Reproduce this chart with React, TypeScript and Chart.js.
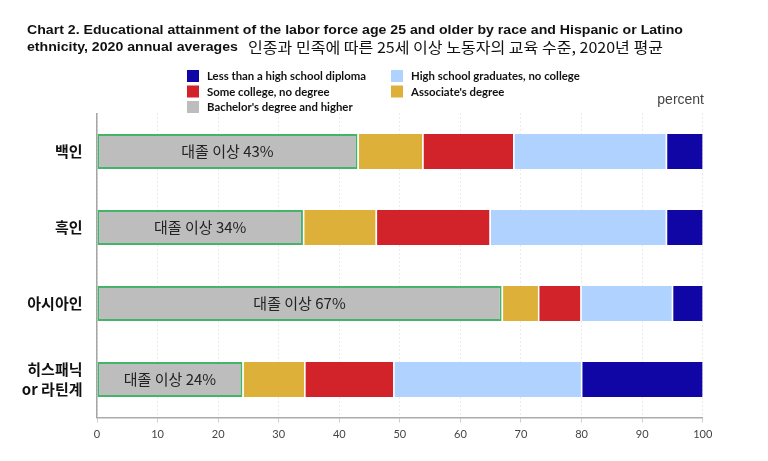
import React, { useEffect, useRef } from 'react';
import { Chart, registerables } from 'chart.js';

Chart.register(...registerables);

// ---- data ----
const categories: (string | string[])[] = ['백인', '흑인', '아시아인', ['히스패닉', 'or 라틴계']];
const seriesNames = [
  "Bachelor's degree and higher",
  "Associate's degree",
  'Some college, no degree',
  'High school graduates, no college',
  'Less than a high school diploma',
];
const bachelors = [43, 34, 66.8, 24];
const associates = [10.7, 12, 6, 10.2];
const someCollege = [15, 18.8, 7, 14.7];
const hsGrads = [25.2, 29.1, 15.1, 31];
const lessThanHS = [6.1, 6.1, 5.1, 20.1];
const bachelorLabels = ['대졸 이상 43%', '대졸 이상 34%', '대졸 이상 67%', '대졸 이상 24%'];
const legendOrder = [
  'Less than a high school diploma',
  'High school graduates, no college',
  'Some college, no degree',
  "Associate's degree",
  "Bachelor's degree and higher",
];
const xMin = 0;
const xMax = 100;
const xStep = 10;

const titleLine1 = 'Chart 2. Educational attainment of the labor force age 25 and older by race and Hispanic or Latino';
const titleLine2 = 'ethnicity, 2020 annual averages';
const subtitleKo = '인종과 민족에 따른 25세 이상 노동자의 교육 수준, 2020년 평균';
const unitLabel = 'percent';

// ---- styles ----
const colorMap: Record<string, string> = {
  "Bachelor's degree and higher": '#BDBDBD',
  "Associate's degree": '#DDB03A',
  'Some college, no degree': '#D2222A',
  'High school graduates, no college': '#B0D2FE',
  'Less than a high school diploma': '#1006A5',
};
const bachelorBorder = '#46B36B';

function drawScaled(
  ctx: CanvasRenderingContext2D,
  text: string,
  x: number,
  y: number,
  font: string,
  color: string,
  targetW: number | null,
  align: CanvasTextAlign = 'left',
  baseline: CanvasTextBaseline = 'alphabetic'
) {
  ctx.save();
  ctx.font = font;
  const w = ctx.measureText(text).width;
  let sx = targetW ? targetW / w : 1;
  sx = Math.max(0.8, Math.min(1.2, sx));
  ctx.translate(x, y);
  ctx.scale(sx, 1);
  ctx.fillStyle = color;
  ctx.textAlign = align;
  ctx.textBaseline = baseline;
  ctx.fillText(text, 0, 0);
  ctx.restore();
}

const decorPlugin = {
  id: 'decor',
  beforeDraw(chart: any) {
    const ctx: CanvasRenderingContext2D = chart.ctx;
    ctx.save();
    ctx.fillStyle = '#ffffff';
    ctx.fillRect(0, 0, chart.width, chart.height);
    ctx.restore();

    // Title
    const tFont = 'bold 13px "Liberation Sans", Arial, sans-serif';
    ctx.save();
    ctx.font = tFont;
    const w1 = ctx.measureText(titleLine1).width;
    ctx.restore();
    const sx = Math.max(0.85, Math.min(1.15, 656 / w1));
    [titleLine1, titleLine2].forEach((t, i) => {
      ctx.save();
      ctx.font = tFont;
      ctx.translate(27, i === 0 ? 34 : 50.5);
      ctx.scale(sx, 1);
      ctx.fillStyle = '#111';
      ctx.textBaseline = 'alphabetic';
      ctx.fillText(t, 0, 0);
      ctx.restore();
    });
    drawScaled(ctx, subtitleKo, 248, 47.5, '15px "Noto Sans CJK KR", sans-serif', '#111', 415, 'left', 'middle');

    // Legend (2 columns, row-major)
    const lFont = 'bold 11px Lato, "Open Sans", sans-serif';
    ctx.save();
    ctx.font = lFont;
    const lw = ctx.measureText(legendOrder[0]).width;
    ctx.restore();
    const lsx = Math.max(0.8, Math.min(1.2, 159 / lw));
    const colX = [187, 391];
    const rowY = [70, 85.5, 101];
    legendOrder.forEach((name, i) => {
      const cx = colX[i % 2];
      const cy = rowY[Math.floor(i / 2)];
      ctx.save();
      ctx.fillStyle = colorMap[name];
      ctx.fillRect(cx, cy, 12, 12);
      ctx.font = lFont;
      ctx.translate(cx + 20, cy + 6.5);
      ctx.scale(lsx, 1);
      ctx.fillStyle = '#111';
      ctx.textBaseline = 'middle';
      ctx.fillText(name, 0, 0);
      ctx.restore();
    });

    // unit
    drawScaled(ctx, unitLabel, 704, 100, '14px "Liberation Sans", Arial, sans-serif', '#444', null, 'right', 'middle');
  },
  afterDatasetsDraw(chart: any) {
    const ctx: CanvasRenderingContext2D = chart.ctx;
    const meta = chart.getDatasetMeta(0);
    meta.data.forEach((el: any, i: number) => {
      const p = el.getProps(['x', 'y', 'base'], true);
      const cx = (p.x + p.base) / 2;
      ctx.save();
      ctx.font = '15px "Noto Sans CJK KR", sans-serif';
      ctx.fillStyle = '#222';
      ctx.textAlign = 'center';
      ctx.textBaseline = 'middle';
      ctx.fillText(bachelorLabels[i], cx, p.y);
      ctx.restore();
    });
  },
};

export default function App() {
  const ref = useRef<HTMLCanvasElement | null>(null);
  useEffect(() => {
    if (!ref.current) return;
    const seriesData = [bachelors, associates, someCollege, hsGrads, lessThanHS];
    const datasets = seriesNames.map((name, i) => {
      const isBach = i === 0;
      return {
        label: name,
        data: seriesData[i],
        backgroundColor: colorMap[name],
        borderColor: isBach ? bachelorBorder : 'rgba(255,255,255,0.85)',
        borderWidth: isBach ? 2 : { left: 1.5, right: 0, top: 0, bottom: 0 },
        borderSkipped: false as const,
        barPercentage: 0.46,
        categoryPercentage: 1,
      };
    });
    const chart = new Chart(ref.current, {
      type: 'bar',
      data: { labels: categories as any, datasets: datasets as any },
      options: {
        indexAxis: 'y',
        responsive: false,
        animation: false,
        devicePixelRatio: 1,
        layout: { padding: { top: 113.5, right: 65.3, bottom: 0, left: 0 } },
        plugins: {
          legend: { display: false },
          title: { display: false },
          tooltip: { enabled: false },
        },
        scales: {
          x: {
            stacked: true,
            min: xMin,
            max: xMax,
            ticks: {
              stepSize: xStep,
              color: '#444',
              font: { family: 'Lato, "Open Sans", sans-serif', size: 11 },
              padding: 5,
            },
            grid: {
              color: '#d6d6d6',
              lineWidth: 1,
              drawTicks: true,
              tickLength: 5,
              tickColor: '#bcd0e6',
              tickWidth: 1,
              tickBorderDash: [],
            },
            border: { display: true, color: '#ababab', width: 1.5, dash: [1, 3] },
            afterFit: (s: any) => {
              s.height = 43.5;
            },
          },
          y: {
            stacked: true,
            ticks: {
              color: '#111',
              font: { family: '"Noto Sans CJK KR", sans-serif', size: 15, weight: 'bold', lineHeight: 1.3 },
              padding: 14.5,
            },
            grid: { display: false, drawTicks: false },
            border: { display: true, color: '#a5a5a5', width: 1.5 },
            afterFit: (s: any) => {
              s.width = 97;
            },
          },
        },
      },
      plugins: [decorPlugin],
    });
    return () => chart.destroy();
  }, []);
  return (
    <div style={{ position: 'absolute', left: 0, top: 0, width: 768, height: 461 }}>
      <canvas ref={ref} width={768} height={461} style={{ width: 768, height: 461, display: 'block' }} />
    </div>
  );
}
